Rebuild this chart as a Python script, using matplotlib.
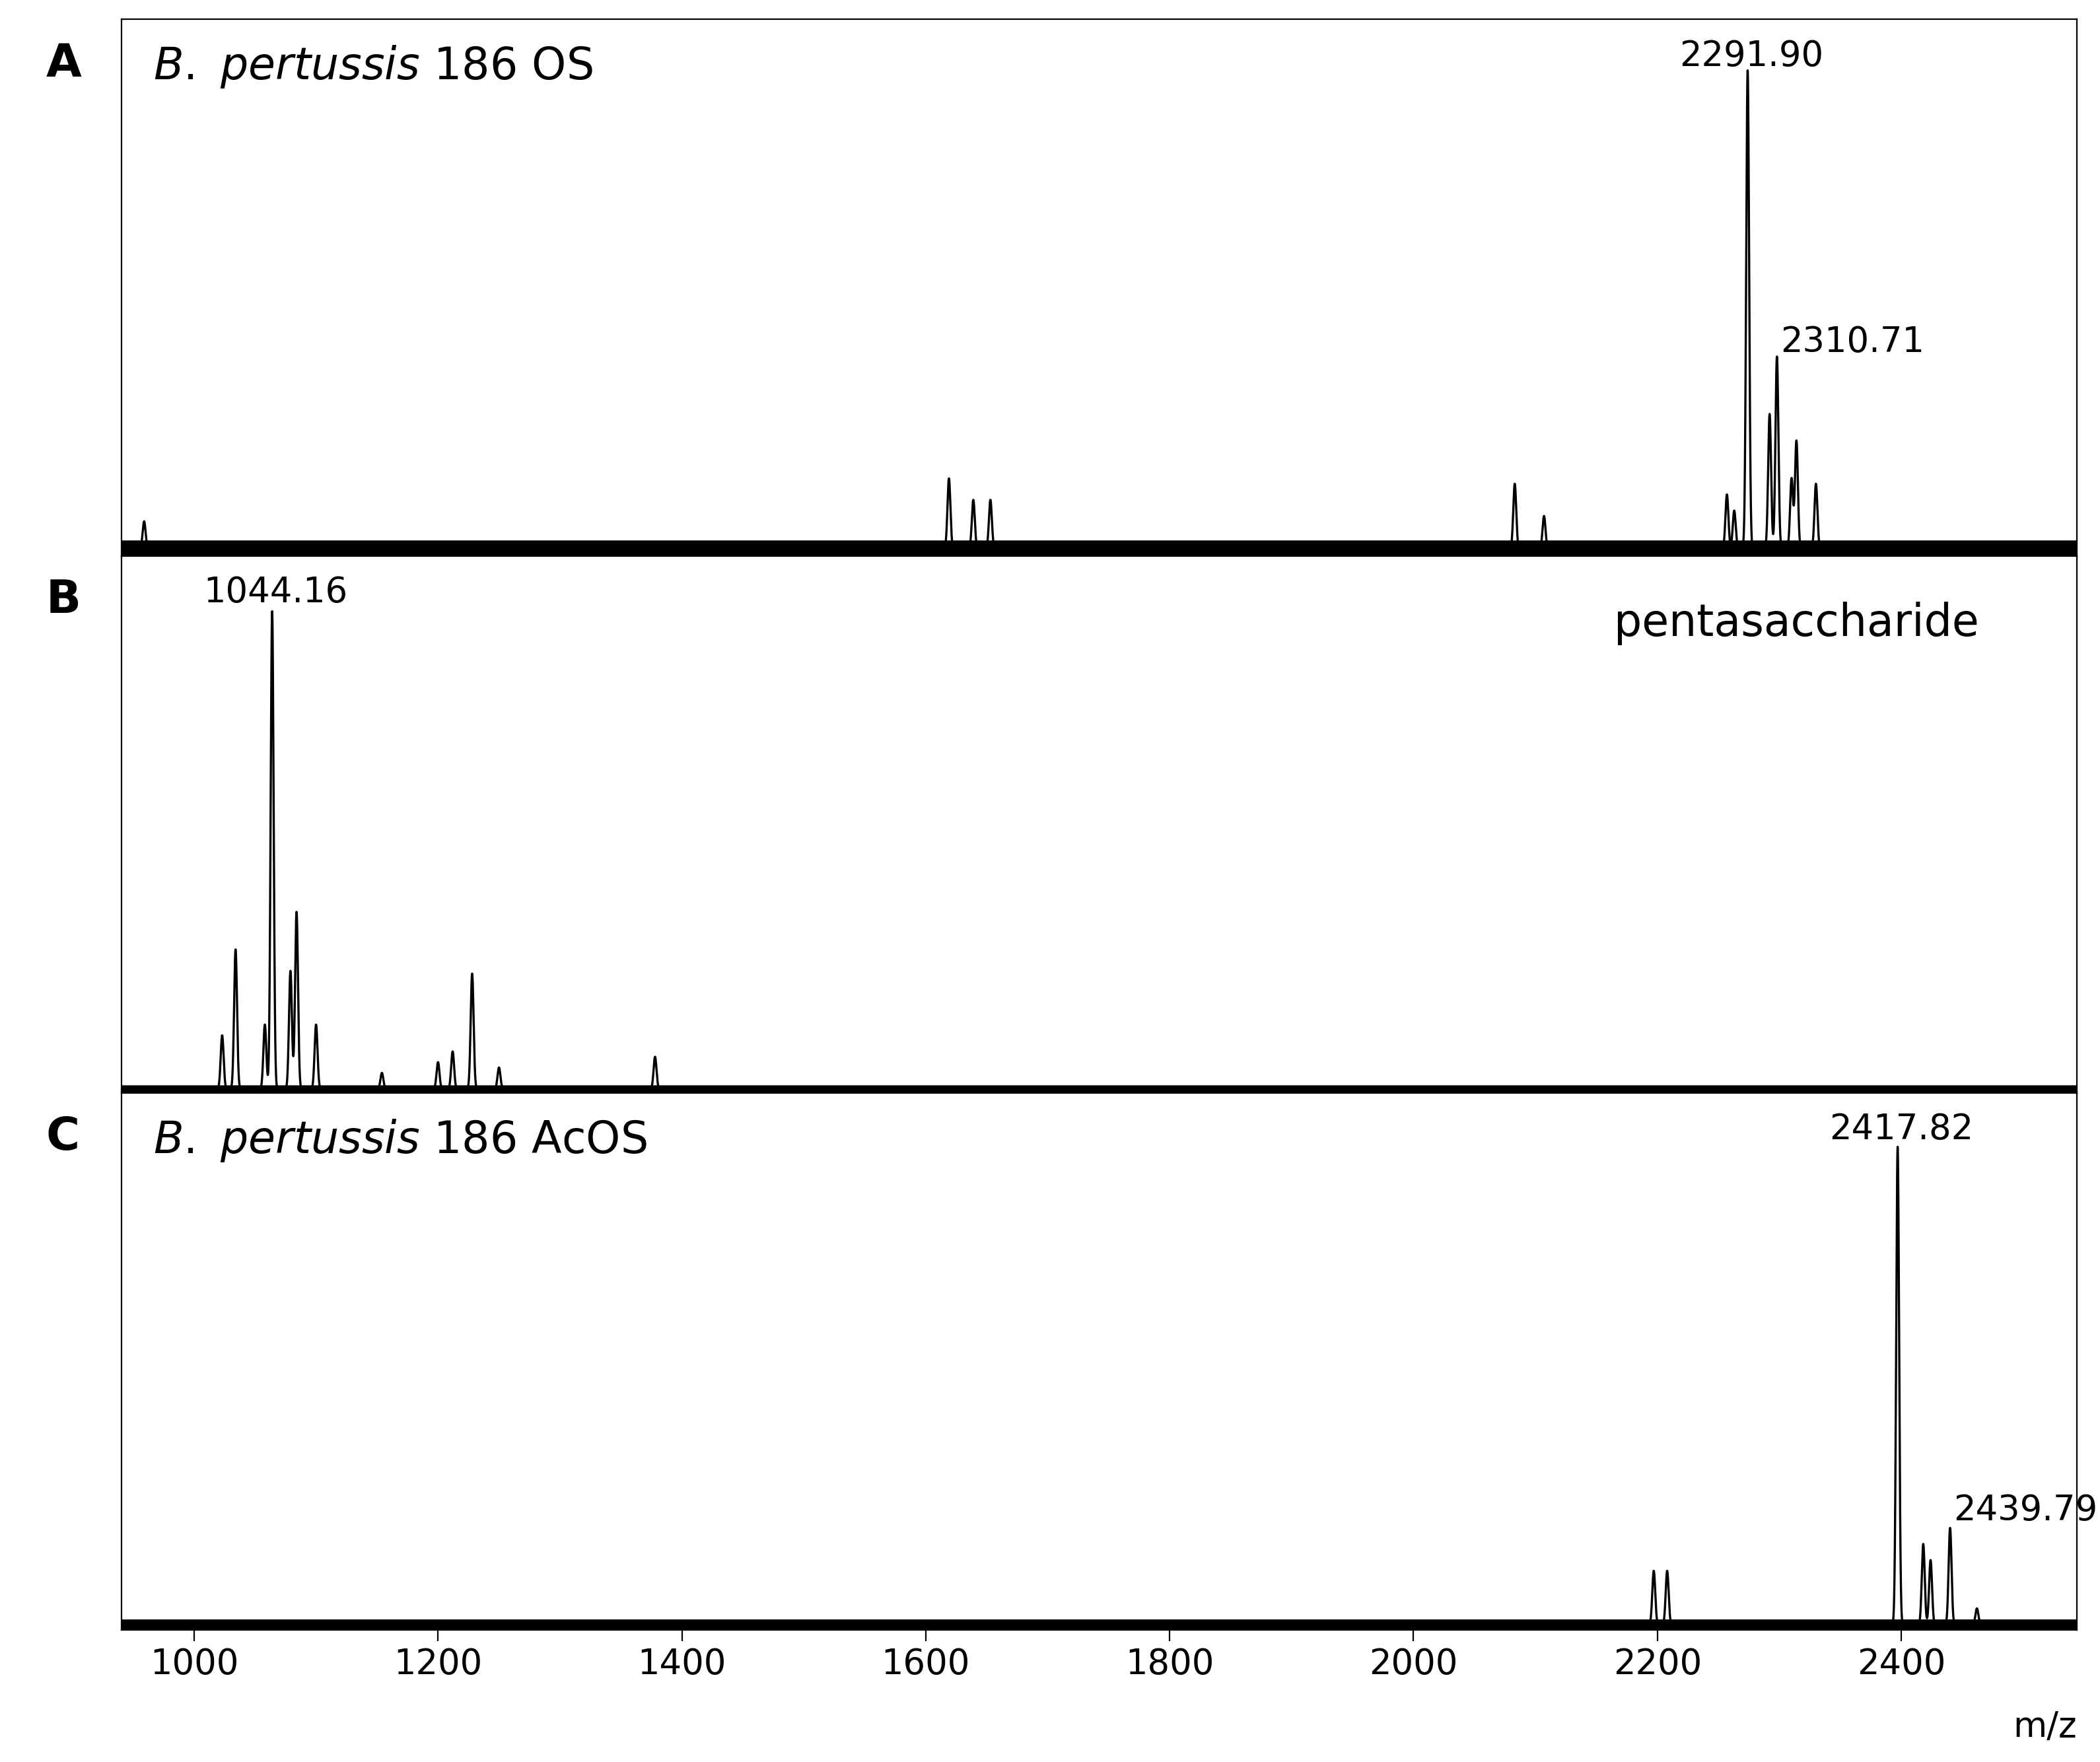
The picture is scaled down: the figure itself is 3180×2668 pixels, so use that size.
import numpy as np
import matplotlib
matplotlib.use("Agg")
import matplotlib.pyplot as plt

xmin, xmax = 940.7, 2544
# peak lists: (m/z position, relative intensity)
peaksA_mz = [959, 1619, 1639, 1653, 2083, 2107, 2257, 2263, 2274, 2292, 2298, 2310, 2314, 2330]
peaksA_int = [0.05, 0.13, 0.09, 0.09, 0.12, 0.06, 0.10, 0.07, 0.89, 0.25, 0.357, 0.13, 0.20, 0.12]
peaksB_mz = [1023, 1034, 1058, 1064, 1079, 1084, 1100, 1154, 1200, 1212, 1228, 1250, 1378]
peaksB_int = [0.10, 0.26, 0.12, 0.89, 0.22, 0.33, 0.12, 0.03, 0.05, 0.07, 0.215, 0.04, 0.06]
peaksC_mz = [2197, 2208, 2397, 2418, 2424, 2440, 2462]
peaksC_int = [0.10, 0.10, 0.89, 0.15, 0.12, 0.18, 0.03]
baseline = [0.03, 0.015, 0.02]
labelsA = [(2274, 0.89, "2291.90"), (2298, 0.357, "2310.71")]
labelsB = [(1064, 0.89, "1044.16")]
labelsC = [(2397, 0.89, "2417.82"), (2440, 0.18, "2439.79")]
xticks = [1000, 1200, 1400, 1600, 1800, 2000, 2200, 2400]

fig = plt.figure(figsize=(15.9, 13.34), dpi=200)
L, R, T, B = 0.058, 0.989, 0.989, 0.075
h = (T - B) / 3
grid = np.linspace(xmin, xmax, 20000)
panels = [
    (peaksA_mz, peaksA_int, labelsA, baseline[0], "A", r"$\it{B.\ pertussis}$ 186 OS", "left"),
    (peaksB_mz, peaksB_int, labelsB, baseline[1], "B", "pentasaccharide", "right"),
    (peaksC_mz, peaksC_int, labelsC, baseline[2], "C", r"$\it{B.\ pertussis}$ 186 AcOS", "left"),
]
for i, (mz, inten, labs, base, letter, title, side) in enumerate(panels):
    ax = fig.add_axes([L, T - (i + 1) * h, R - L, h])
    y = np.full_like(grid, base * 0.5)
    for m, a in zip(mz, inten):
        y += a * np.exp(-0.5 * ((grid - m) / 1.2) ** 2)
    ax.fill_between(grid, 0, base, color="black", lw=0)
    ax.plot(grid, y, color="black", lw=1.2)
    ax.set_xlim(xmin, xmax)
    ax.set_ylim(0, 1)
    ax.set_yticks([])
    for x, yy, t in labs:
        ax.text(x + 3, yy + 0.01, t, ha="center" if t != "2310.71" and t != "2439.79" else "left",
                va="bottom", fontsize=19)
    if side == "left":
        ax.text(0.016, 0.955, title, transform=ax.transAxes, fontsize=24, va="top")
    else:
        ax.text(0.95, 0.915, title, transform=ax.transAxes, fontsize=24, va="top", ha="right")
    fig.text(0.022, T - i * h - 0.025, letter, fontsize=25, fontweight="bold", va="center")
    if i < 2:
        ax.set_xticks([])
    else:
        ax.set_xticks(xticks)
        ax.tick_params(axis="x", labelsize=19, length=6)
        ax.text(1.0, -0.2, "m/z", transform=ax.transAxes, fontsize=19, ha="right")
fig.savefig("out.png", dpi=200)
